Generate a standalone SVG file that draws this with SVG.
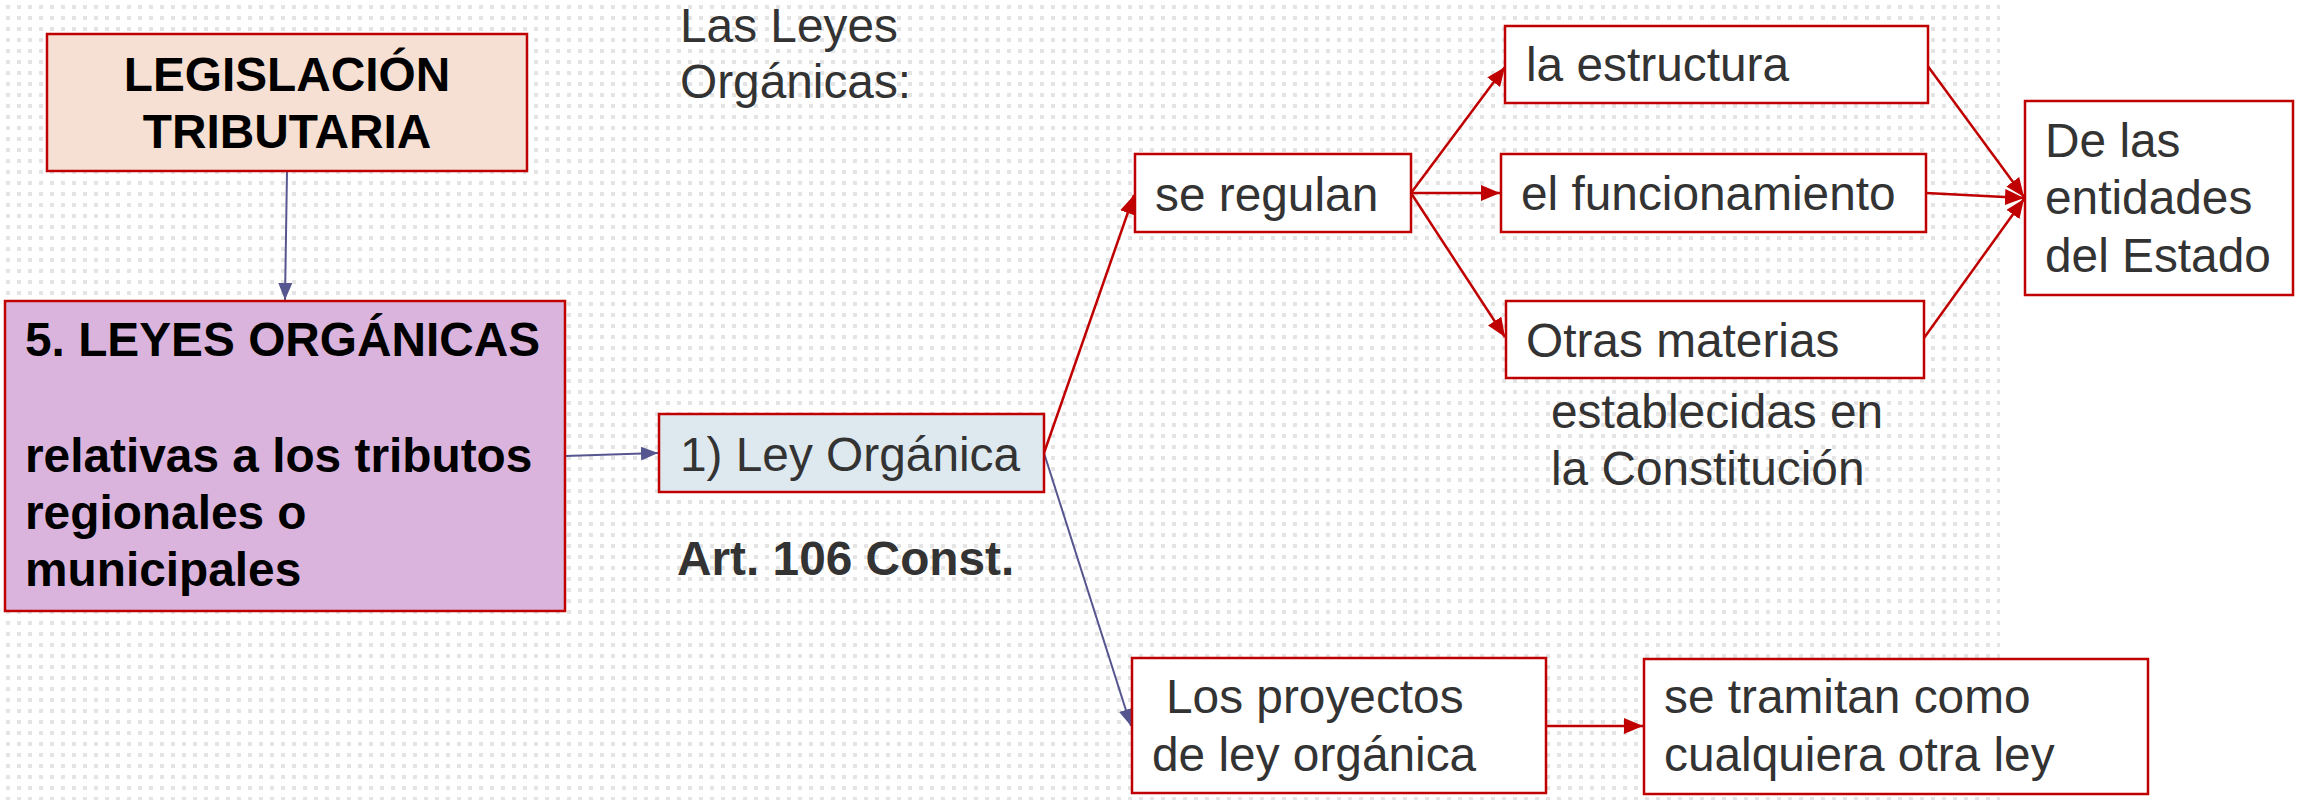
<svg xmlns="http://www.w3.org/2000/svg" width="2304" height="800" viewBox="0 0 2304 800">
<style>
.box{stroke:#c00000;stroke-width:2.5}
.t{font-family:"Liberation Sans",Arial,sans-serif;font-size:47.8px;fill:#333333}
.b{font-weight:bold;fill:#000000}
.red{stroke:#c00000;stroke-width:2.5;fill:none}
.blue{stroke:#55558f;stroke-width:2;fill:none}
</style>
<defs>
<pattern id="dots" x="0" y="0" width="11" height="11" patternUnits="userSpaceOnUse">
<rect x="6" y="5" width="4" height="4" fill="#e4e4e4"/>
</pattern>
<marker id="ar" markerUnits="userSpaceOnUse" markerWidth="20" markerHeight="16" refX="19" refY="8" orient="auto">
<path d="M0,0 L19,8 L0,16 z" fill="#c00000"/>
</marker>
<marker id="ab" markerUnits="userSpaceOnUse" markerWidth="18" markerHeight="14" refX="17" refY="7" orient="auto">
<path d="M0,0 L17,7 L0,14 z" fill="#55558f"/>
</marker>
</defs>
<rect x="0" y="0" width="2304" height="800" fill="#ffffff"/>
<rect x="0" y="0" width="2000" height="800" fill="url(#dots)"/>

<g id="connectors">
<line class="blue" x1="287" y1="171" x2="285" y2="300" marker-end="url(#ab)"/>
<line class="blue" x1="565" y1="456" x2="658" y2="453" marker-end="url(#ab)"/>
<line class="red" x1="1044" y1="453" x2="1134" y2="195" marker-end="url(#ar)"/>
<line class="blue" x1="1044" y1="453" x2="1131" y2="726" marker-end="url(#ab)"/>
<line class="red" x1="1411" y1="193" x2="1505" y2="67" marker-end="url(#ar)"/>
<line class="red" x1="1411" y1="193" x2="1500" y2="193" marker-end="url(#ar)"/>
<line class="red" x1="1411" y1="193" x2="1505" y2="337" marker-end="url(#ar)"/>
<line class="red" x1="1927" y1="65" x2="2024" y2="197" marker-end="url(#ar)"/>
<line class="red" x1="1926" y1="193" x2="2024" y2="198" marker-end="url(#ar)"/>
<line class="red" x1="1924" y1="338" x2="2024" y2="199" marker-end="url(#ar)"/>
<line class="red" x1="1546" y1="726" x2="1643" y2="726" marker-end="url(#ar)"/>
</g>

<g id="legislacion">
<rect class="box" x="47" y="34" width="480" height="137" fill="#f6e0d4"/>
<text class="t b" x="287" y="91" text-anchor="middle">LEGISLACIÓN</text>
<text class="t b" x="287" y="148" text-anchor="middle">TRIBUTARIA</text>
</g>

<g id="leyes-organicas">
<rect class="box" x="5" y="301" width="560" height="310" fill="#dab4dc"/>
<text class="t b" x="25" y="356">5. LEYES ORGÁNICAS</text>
<text class="t b" x="25" y="472">relativas a los tributos</text>
<text class="t b" x="25" y="529">regionales o</text>
<text class="t b" x="25" y="586">municipales</text>
</g>

<g id="titulo">
<text class="t" x="680" y="42">Las Leyes</text>
<text class="t" x="680" y="98">Orgánicas:</text>
</g>

<g id="ley-organica">
<rect class="box" x="659" y="414" width="385" height="78" fill="#dde8ef"/>
<text class="t" x="680" y="471">1) Ley Orgánica</text>
</g>

<g id="art106">
<text class="t" x="677" y="575" font-weight="bold">Art. 106 Const.</text>
</g>

<g id="se-regulan">
<rect class="box" x="1135" y="154" width="276" height="78" fill="#ffffff"/>
<text class="t" x="1155" y="211">se regulan</text>
</g>

<g id="la-estructura">
<rect class="box" x="1505" y="26" width="423" height="77" fill="#ffffff"/>
<text class="t" x="1526" y="81">la estructura</text>
</g>

<g id="el-funcionamiento">
<rect class="box" x="1501" y="154" width="425" height="78" fill="#ffffff"/>
<text class="t" x="1521" y="210">el funcionamiento</text>
</g>

<g id="otras-materias">
<rect class="box" x="1506" y="301" width="418" height="77" fill="#ffffff"/>
<text class="t" x="1526" y="357">Otras materias</text>
</g>

<g id="establecidas">
<text class="t" x="1551" y="428">establecidas en</text>
<text class="t" x="1551" y="485">la Constitución</text>
</g>

<g id="entidades">
<rect class="box" x="2025" y="101" width="268" height="194" fill="#ffffff"/>
<text class="t" x="2045" y="157">De las</text>
<text class="t" x="2045" y="214">entidades</text>
<text class="t" x="2045" y="272">del Estado</text>
</g>

<g id="proyectos">
<rect class="box" x="1132" y="658" width="414" height="135" fill="#ffffff"/>
<text class="t" x="1166" y="713">Los proyectos</text>
<text class="t" x="1152" y="771">de ley orgánica</text>
</g>

<g id="tramitan">
<rect class="box" x="1644" y="659" width="504" height="135" fill="#ffffff"/>
<text class="t" x="1664" y="713">se tramitan como</text>
<text class="t" x="1664" y="771">cualquiera otra ley</text>
</g>
</svg>
